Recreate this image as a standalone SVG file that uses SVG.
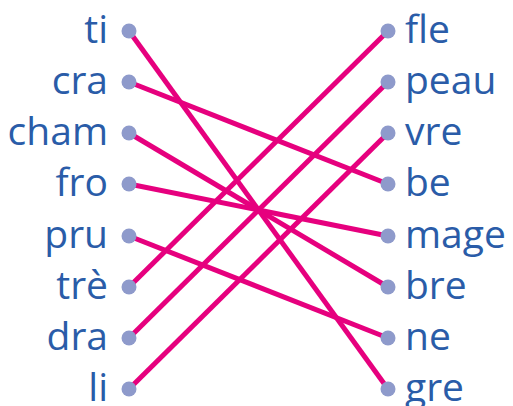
<svg xmlns="http://www.w3.org/2000/svg" width="513" height="406" viewBox="0 0 513 406">
<style>
.t{font-family:"Open Sans","Noto Sans",sans-serif;font-size:39px;fill:#2a5ca8}
.l{text-anchor:end}
.d{fill:#8e9acb}
.c line{stroke:#e6007e;stroke-width:5;stroke-linecap:butt}
</style>
<rect width="513" height="406" fill="#fff"/>
<g id="connectors" class="c">
<line x1="129" y1="31" x2="388" y2="389"/>
<line x1="129" y1="82" x2="388" y2="184"/>
<line x1="129" y1="133" x2="388" y2="287"/>
<line x1="129" y1="184" x2="388" y2="236"/>
<line x1="129" y1="236" x2="388" y2="338"/>
<line x1="129" y1="287" x2="388" y2="31"/>
<line x1="129" y1="338" x2="388" y2="82"/>
<line x1="129" y1="389" x2="388" y2="133"/>
</g>
<g id="n-ti"><text class="t l" x="108" y="43">ti</text><circle class="d" cx="129" cy="31" r="7.5"/></g>
<g id="n-cra"><text class="t l" x="108" y="94">cra</text><circle class="d" cx="129" cy="82" r="7.5"/></g>
<g id="n-cham"><text class="t l" x="108" y="145">cham</text><circle class="d" cx="129" cy="133" r="7.5"/></g>
<g id="n-fro"><text class="t l" x="108" y="196">fro</text><circle class="d" cx="129" cy="184" r="7.5"/></g>
<g id="n-pru"><text class="t l" x="108" y="248">pru</text><circle class="d" cx="129" cy="236" r="7.5"/></g>
<g id="n-tre"><text class="t l" x="108" y="299">trè</text><circle class="d" cx="129" cy="287" r="7.5"/></g>
<g id="n-dra"><text class="t l" x="108" y="350">dra</text><circle class="d" cx="129" cy="338" r="7.5"/></g>
<g id="n-li"><text class="t l" x="108" y="401">li</text><circle class="d" cx="129" cy="389" r="7.5"/></g>
<g id="n-fle"><circle class="d" cx="388" cy="31" r="7.5"/><text class="t" x="405" y="43">fle</text></g>
<g id="n-peau"><circle class="d" cx="388" cy="82" r="7.5"/><text class="t" x="405" y="94">peau</text></g>
<g id="n-vre"><circle class="d" cx="388" cy="133" r="7.5"/><text class="t" x="405" y="145">vre</text></g>
<g id="n-be"><circle class="d" cx="388" cy="184" r="7.5"/><text class="t" x="405" y="196">be</text></g>
<g id="n-mage"><circle class="d" cx="388" cy="236" r="7.5"/><text class="t" x="405" y="248">mage</text></g>
<g id="n-bre"><circle class="d" cx="388" cy="287" r="7.5"/><text class="t" x="405" y="299">bre</text></g>
<g id="n-ne"><circle class="d" cx="388" cy="338" r="7.5"/><text class="t" x="405" y="350">ne</text></g>
<g id="n-gre"><circle class="d" cx="388" cy="389" r="7.5"/><text class="t" x="405" y="401">gre</text></g>
</svg>
